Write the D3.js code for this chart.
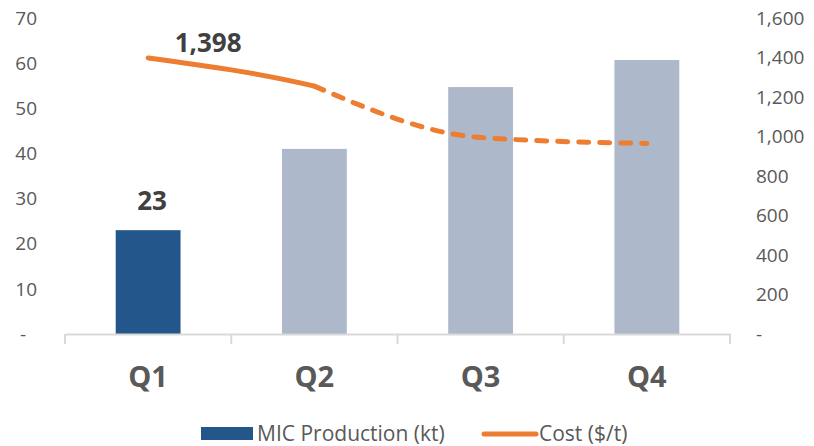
<!DOCTYPE html>
<html><head><meta charset="utf-8">
<script src="https://cdn.jsdelivr.net/npm/d3@7"></script>
<style>
body{margin:0;background:#fff;}
svg{display:block;font-family:"Open Sans",sans-serif;}
</style></head>
<body><svg id="c" width="814" height="446"></svg>
<script>
const categories = ["Q1","Q2","Q3","Q4"];
const production = [23, 41, 54.7, 60.7];
const cost = [1398, 1255, 995, 965];
const leftTicks = [0,10,20,30,40,50,60,70];
const rightTicks = [0,200,400,600,800,1000,1200,1400,1600];
const barColors = ["#23578b","#adb8ca","#adb8ca","#adb8ca"];
const dataLabels = [{i:0, bar:"23", line:"1,398"}];

const svg = d3.select("#c");
const m = {l:65, r:84, t:18, b:112};
const W = 814, H = 446;
const x = d3.scaleBand().domain(categories).range([m.l, W-m.r]).paddingInner(0.61).paddingOuter(0.305);
const xb = d3.scaleBand().domain(categories).range([m.l, W-m.r]);
const yL = d3.scaleLinear().domain([0,70]).range([H-m.b, m.t]);
const yR = d3.scaleLinear().domain([0,1600]).range([H-m.b, m.t]);
const fmt = d3.format(",");

// left axis labels
svg.append("g").selectAll("text").data(leftTicks).join("text")
  .attr("x", d => d===0 ? 26 : 37)
  .attr("y", d => yL(d)).attr("dy","0.35em")
  .attr("text-anchor","end").attr("font-size",19).attr("fill","#595959")
  .text(d => d===0 ? "-" : d);
// right axis labels
svg.append("g").selectAll("text").data(rightTicks).join("text")
  .attr("x", 756)
  .attr("y", d => yR(d)).attr("dy","0.35em")
  .attr("text-anchor","start").attr("font-size",19).attr("fill","#595959")
  .text(d => d===0 ? "-" : fmt(d));

// bars
svg.append("g").selectAll("rect").data(production).join("rect")
  .attr("x",(d,i)=>x(categories[i])).attr("width",x.bandwidth())
  .attr("y",d=>yL(d)).attr("height",d=>yL(0)-yL(d))
  .attr("fill",(d,i)=>barColors[i]);

// x axis
const xAxis = d3.axisBottom(xb).tickSize(0).tickFormat("");
const gx = svg.append("g").attr("transform",`translate(0,${yL(0)})`).call(xAxis);
gx.select(".domain").attr("stroke","#d9d9d9").attr("stroke-width",2);
const bounds = categories.map(c=>xb(c)).concat([xb.range()[1]]);
svg.append("g").selectAll("line").data(bounds).join("line")
  .attr("x1",d=>d).attr("x2",d=>d).attr("y1",yL(0)).attr("y2",yL(0)+10)
  .attr("stroke","#d9d9d9").attr("stroke-width",2);
svg.append("g").selectAll("text").data(categories).join("text")
  .attr("x",d=>xb(d)+xb.bandwidth()/2).attr("y",387)
  .attr("text-anchor","middle").attr("font-size",29).attr("font-weight","bold").attr("fill","#595959")
  .text(d=>d);

// line
const pts = cost.map((v,i)=>[xb(categories[i])+xb.bandwidth()/2, yR(v)]);
const lineGen = d3.line().curve(d3.curveMonotoneX);
const splitX = pts[1][0];
const defs = svg.append("defs");
defs.append("clipPath").attr("id","cl").append("rect").attr("x",0).attr("y",0).attr("width",splitX).attr("height",H);
svg.append("path").attr("d",lineGen(pts)).attr("fill","none").attr("stroke","#ed7d31")
  .attr("stroke-width",5).attr("stroke-linecap","round").attr("clip-path","url(#cl)");
svg.append("path").attr("d",lineGen(pts.slice(1))).attr("fill","none").attr("stroke","#ed7d31")
  .attr("stroke-width",5).attr("stroke-linecap","round").attr("stroke-dasharray","10,11");

// data labels
dataLabels.forEach(dl=>{
  const cx = xb(categories[dl.i])+xb.bandwidth()/2;
  svg.append("text").attr("x",cx+4).attr("y",yL(production[dl.i])-20)
    .attr("text-anchor","middle").attr("font-size",26).attr("font-weight","bold").attr("fill","#404040").text(dl.bar);
  svg.append("text").attr("x",cx+60).attr("y",yR(cost[dl.i])-6)
    .attr("text-anchor","middle").attr("font-size",26).attr("font-weight","bold").attr("fill","#404040").text(dl.line);
});

// legend
const lg = svg.append("g");
lg.append("rect").attr("x",201).attr("y",427).attr("width",52).attr("height",13).attr("fill",barColors[0]);
lg.append("text").attr("x",257).attr("y",434).attr("dy","0.35em").attr("font-size",21).attr("fill","#595959").text("MIC Production (kt)");
lg.append("line").attr("x1",484).attr("x2",536).attr("y1",434).attr("y2",434).attr("stroke","#ed7d31").attr("stroke-width",5).attr("stroke-linecap","round");
lg.append("text").attr("x",539).attr("y",434).attr("dy","0.35em").attr("font-size",21).attr("fill","#595959").text("Cost ($/t)");
</script></body></html>
